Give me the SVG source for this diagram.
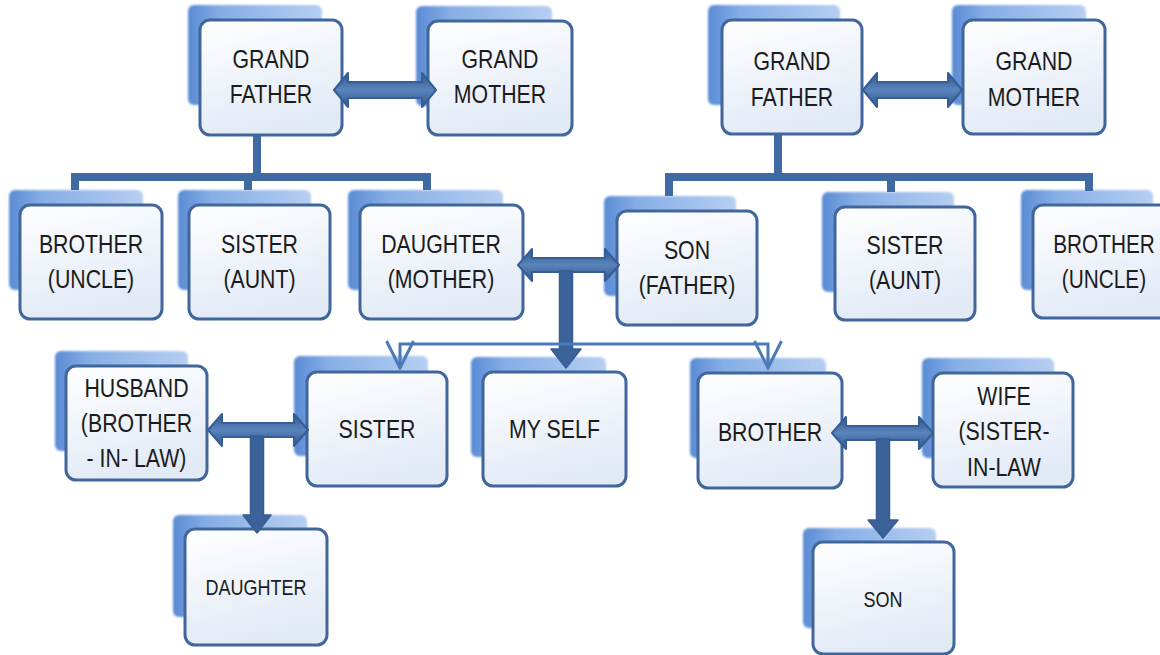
<svg xmlns="http://www.w3.org/2000/svg" width="1160" height="655" viewBox="0 0 1160 655">
<style>
.sh{fill:url(#gs);filter:url(#bl)}
.bx{fill:url(#gf);stroke:#41669c;stroke-width:3}
.t{font-family:"Liberation Sans",Arial,sans-serif;font-size:26px;fill:#1b1b1b;text-anchor:middle}
.s{font-size:22px}
.tree{fill:none;stroke:#3f6aa3;stroke-width:8;stroke-linejoin:miter}
.thin{fill:none;stroke:#4a7ab8;stroke-width:3}
.arr{fill:url(#ga);stroke:#365d95;stroke-width:2;stroke-linejoin:round}
.varr{fill:#3b6299;stroke:#365d95;stroke-width:1.5;stroke-linejoin:round}
</style>
<defs>
<linearGradient id="gs" x1="0" y1="0" x2="1" y2="0">
<stop offset="0" stop-color="#5a8bd4"/>
<stop offset="0.25" stop-color="#86aee6"/>
<stop offset="1" stop-color="#b6cef2"/>
</linearGradient>
<linearGradient id="gf" x1="0" y1="0" x2="0.3" y2="1">
<stop offset="0" stop-color="#ffffff"/>
<stop offset="1" stop-color="#e2eaf6"/>
</linearGradient>
<linearGradient id="ga" x1="0" y1="0" x2="0" y2="1">
<stop offset="0" stop-color="#2f5689"/>
<stop offset="0.5" stop-color="#5a84bd"/>
<stop offset="1" stop-color="#2f5689"/>
</linearGradient>
<filter id="bl" x="-10%" y="-10%" width="120%" height="120%"><feGaussianBlur stdDeviation="1.3"/></filter>
<marker id="ov" markerUnits="userSpaceOnUse" viewBox="0 0 30 30" refX="28" refY="15" markerWidth="30" markerHeight="30" orient="auto-start-reverse">
<path d="M1,1.5 L28,15 L1,28.5" fill="none" stroke="#4a7ab8" stroke-width="3"/>
</marker>
</defs>
<rect width="1160" height="655" fill="#ffffff"/>

<g id="gf_l"><rect class="sh" x="188" y="5" width="134" height="100" rx="6"/><rect class="bx" x="200" y="20" width="142" height="115" rx="10"/><text class="t" transform="translate(271 68) scale(0.82 1)">GRAND</text><text class="t" transform="translate(271 103) scale(0.82 1)">FATHER</text></g>
<g id="gm_l"><rect class="sh" x="416" y="6" width="136" height="100" rx="6"/><rect class="bx" x="428" y="21" width="144" height="114" rx="10"/><text class="t" transform="translate(500 68) scale(0.82 1)">GRAND</text><text class="t" transform="translate(500 103) scale(0.82 1)">MOTHER</text></g>
<g id="gf_r"><rect class="sh" x="708" y="5" width="132" height="100" rx="6"/><rect class="bx" x="722" y="20" width="140" height="114" rx="10"/><text class="t" transform="translate(792 70) scale(0.82 1)">GRAND</text><text class="t" transform="translate(792 106) scale(0.82 1)">FATHER</text></g>
<g id="gm_r"><rect class="sh" x="952" y="5" width="134" height="100" rx="6"/><rect class="bx" x="963" y="20" width="142" height="114" rx="10"/><text class="t" transform="translate(1034 70) scale(0.82 1)">GRAND</text><text class="t" transform="translate(1034 106) scale(0.82 1)">MOTHER</text></g>

<g id="bro_l"><rect class="sh" x="9" y="190" width="134" height="100" rx="6"/><rect class="bx" x="20" y="205" width="142" height="114" rx="10"/><text class="t" transform="translate(91 253) scale(0.82 1)">BROTHER</text><text class="t" transform="translate(91 288) scale(0.82 1)">(UNCLE)</text></g>
<g id="sis_l"><rect class="sh" x="178" y="190" width="133" height="100" rx="6"/><rect class="bx" x="189" y="205" width="141" height="114" rx="10"/><text class="t" transform="translate(259.5 253) scale(0.82 1)">SISTER</text><text class="t" transform="translate(259.5 288) scale(0.82 1)">(AUNT)</text></g>
<g id="dau_m"><rect class="sh" x="348" y="190" width="155" height="100" rx="6"/><rect class="bx" x="360" y="205" width="163" height="114" rx="10"/><text class="t" transform="translate(441 253) scale(0.82 1)">DAUGHTER</text><text class="t" transform="translate(441 288) scale(0.82 1)">(MOTHER)</text></g>
<g id="son_f"><rect class="sh" x="604" y="196" width="132" height="100" rx="6"/><rect class="bx" x="617" y="211" width="140" height="114" rx="10"/><text class="t" transform="translate(687 259) scale(0.82 1)">SON</text><text class="t" transform="translate(687 294) scale(0.82 1)">(FATHER)</text></g>
<g id="sis_r"><rect class="sh" x="822" y="192" width="132" height="100" rx="6"/><rect class="bx" x="835" y="207" width="140" height="113" rx="10"/><text class="t" transform="translate(905 254) scale(0.82 1)">SISTER</text><text class="t" transform="translate(905 289) scale(0.82 1)">(AUNT)</text></g>
<g id="bro_r"><rect class="sh" x="1021" y="190" width="132" height="100" rx="6"/><rect class="bx" x="1033" y="205" width="140" height="113" rx="10"/><text class="t" transform="translate(1104 253) scale(0.8 1)">BROTHER</text><text class="t" transform="translate(1104 288) scale(0.8 1)">(UNCLE)</text></g>

<g id="husband"><rect class="sh" x="55" y="351" width="133" height="100" rx="6"/><rect class="bx" x="66" y="366" width="141" height="114" rx="10"/><text class="t" transform="translate(136.5 397) scale(0.82 1)">HUSBAND</text><text class="t" transform="translate(136.5 432) scale(0.82 1)">(BROTHER</text><text class="t" transform="translate(136.5 467) scale(0.82 1)">- IN- LAW)</text></g>
<g id="sister"><rect class="sh" x="294" y="356" width="134" height="100" rx="6"/><rect class="bx" x="307" y="372" width="140" height="114" rx="10"/><text class="t" transform="translate(377 438) scale(0.82 1)">SISTER</text></g>
<g id="myself"><rect class="sh" x="471" y="357" width="135" height="100" rx="6"/><rect class="bx" x="483" y="372" width="143" height="114" rx="10"/><text class="t" transform="translate(554.5 438) scale(0.82 1)">MY SELF</text></g>
<g id="brother"><rect class="sh" x="690" y="358" width="136" height="100" rx="6"/><rect class="bx" x="698" y="373" width="144" height="115" rx="10"/><text class="t" transform="translate(770 441) scale(0.82 1)">BROTHER</text></g>
<g id="wife"><rect class="sh" x="922" y="358" width="132" height="100" rx="6"/><rect class="bx" x="933" y="373" width="140" height="114" rx="10"/><text class="t" transform="translate(1004 405) scale(0.82 1)">WIFE</text><text class="t" transform="translate(1004 440) scale(0.82 1)">(SISTER-</text><text class="t" transform="translate(1004 476) scale(0.82 1)">IN-LAW</text></g>

<g id="daughter"><rect class="sh" x="173" y="515" width="134" height="102" rx="6"/><rect class="bx" x="185" y="529" width="142" height="116" rx="10"/><text class="t s" transform="translate(256 595) scale(0.82 1)">DAUGHTER</text></g>
<g id="son"><rect class="sh" x="803" y="528" width="133" height="100" rx="6"/><rect class="bx" x="813" y="542" width="141" height="112" rx="10"/><text class="t s" transform="translate(883 607) scale(0.82 1)">SON</text></g>

<g id="connectors">
<path class="tree" d="M257,136 V177 M75,190 V177 H427 V190 M248,177 V190"/>
<path class="tree" d="M778,135 V177 M669,196 V177 H1089 V191 M891,177 V192"/>
<polygon class="arr" points="334,90 348,73 348,82 422,82 422,73 436,90 422,107 422,98 348,98 348,107"/>
<polygon class="arr" points="863,90 877,73 877,82 948,82 948,73 962,90 948,107 948,98 877,98 877,107"/>
<polygon class="arr" points="518,265 532,249 532,258 605,258 605,249 619,265 605,281 605,272 532,272 532,281"/>
<polygon class="arr" points="208,430 222,414 222,423 294,423 294,414 308,430 294,446 294,437 222,437 222,446"/>
<polygon class="arr" points="832,433 846,417 846,426 919,426 919,417 933,433 919,449 919,440 846,440 846,449"/>
<polygon class="varr" points="559.5,271 572.5,271 572.5,349 581,349 566,368 551,349 559.5,349"/>
<polygon class="varr" points="250.5,436 263.5,436 263.5,515 271,515 257,533 243,515 250.5,515"/>
<polygon class="varr" points="876.5,439 889.5,439 889.5,520 898,520 883,538 868,520 876.5,520"/>
<path class="thin" d="M400,368 V344 H768 V368" marker-start="url(#ov)" marker-end="url(#ov)"/>
</g>
</svg>
